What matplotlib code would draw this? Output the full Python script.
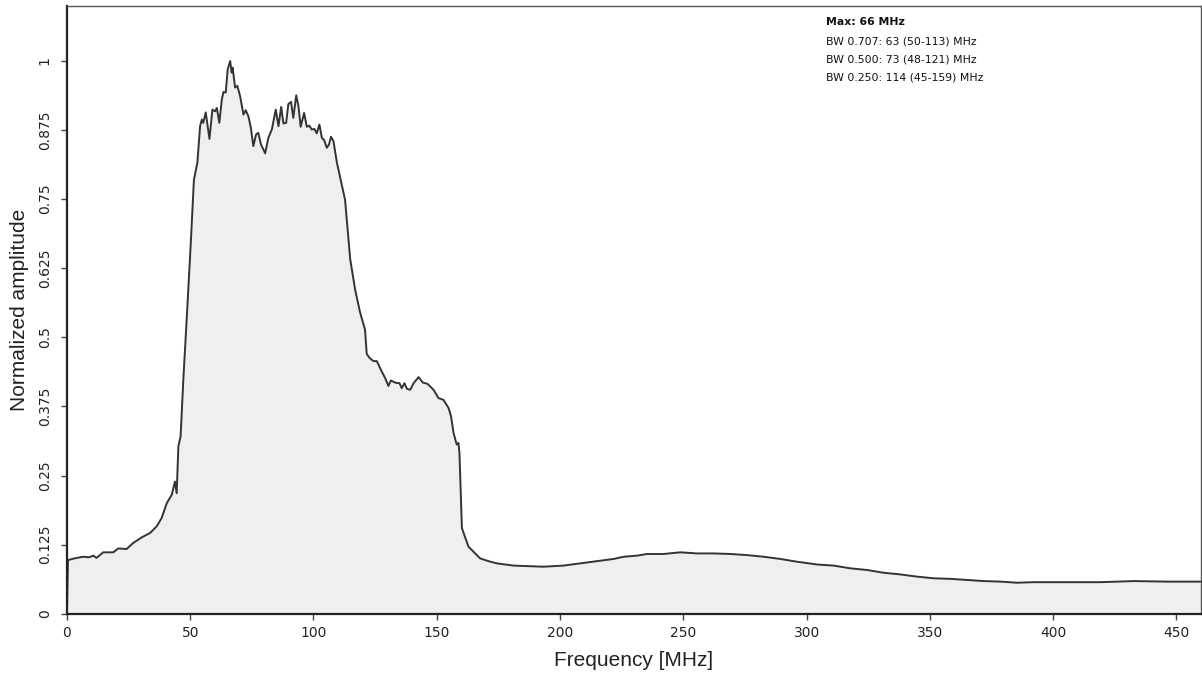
import matplotlib
matplotlib.use("Agg")
import matplotlib.pyplot as plt

freq_mhz = [0, 0.4, 3, 6.6, 9, 10.7, 12, 14.7, 18.8, 20.8, 24.2, 26.9, 30.3, 33.7,
            36.4, 38.4, 40.5, 42.5, 43.8, 44.5, 45.2, 46.1, 47.2, 49.0, 50.3, 51.5,
            52.9, 54.0, 54.7, 55.3, 56.3, 57.8, 59.0, 60.1, 60.8, 61.8, 62.8, 63.5,
            64.4, 65.2, 66.2, 66.8, 67.2, 68.2, 69.1, 70.2, 71.6, 72.5, 73.6, 74.6,
            75.6, 76.7, 77.6, 78.7, 80.4, 81.7, 83.1, 84.7, 85.8, 86.9, 87.8, 88.9,
            89.8, 90.9, 91.8, 93.0, 93.9, 94.8, 96.2, 97.3, 98.3, 99.3, 100.4, 101.3,
            102.4, 103.4, 104.3, 105.4, 106.3, 107.1, 108.1, 109.5, 112.8, 114.9,
            116.9, 118.9, 120.9, 121.6, 122.7, 124.3, 125.7, 127.7, 129.1, 130.4,
            131.4, 133.1, 134.9, 135.8, 136.9, 137.9, 139.2, 140.6, 142.6, 144.4,
            146.2, 148.7, 150.7, 152.7, 154.8, 155.8, 156.8, 158.1, 158.8, 159.2,
            160.2, 161.6, 162.9, 164.9, 167.6, 171.0, 174.4, 181.2, 187.9, 193.3,
            201.4, 208.2, 215.0, 221.7, 225.8, 231.2, 235.3, 242.0, 248.8, 255.6,
            262.3, 269.1, 275.8, 282.6, 289.4, 296.1, 304.3, 311.0, 317.8, 324.6,
            331.3, 338.1, 344.8, 351.6, 358.4, 365.1, 371.9, 378.7, 385.4, 392.2,
            405.7, 419.3, 432.8, 446.3, 460.0]

amplitude = [0.0, 0.097, 0.100, 0.103, 0.102, 0.105, 0.101, 0.111, 0.111, 0.118,
             0.117, 0.128, 0.138, 0.146, 0.158, 0.173, 0.200, 0.215, 0.239, 0.218,
             0.303, 0.321, 0.423, 0.568, 0.677, 0.785, 0.816, 0.882, 0.894, 0.888,
             0.907, 0.859, 0.912, 0.909, 0.915, 0.888, 0.930, 0.944, 0.943, 0.985,
             1.000, 0.979, 0.988, 0.952, 0.955, 0.937, 0.903, 0.911, 0.900, 0.879,
             0.846, 0.867, 0.870, 0.849, 0.833, 0.861, 0.876, 0.912, 0.882, 0.917,
             0.887, 0.888, 0.922, 0.926, 0.897, 0.938, 0.918, 0.881, 0.906, 0.881,
             0.883, 0.876, 0.877, 0.869, 0.885, 0.861, 0.857, 0.843, 0.849, 0.863,
             0.855, 0.816, 0.749, 0.641, 0.586, 0.545, 0.514, 0.470, 0.463, 0.457,
             0.457, 0.438, 0.426, 0.412, 0.422, 0.418, 0.417, 0.408, 0.417, 0.407,
             0.405, 0.417, 0.428, 0.418, 0.416, 0.405, 0.390, 0.387, 0.372, 0.357,
             0.327, 0.306, 0.309, 0.291, 0.155, 0.137, 0.121, 0.112, 0.100, 0.095,
             0.091, 0.087, 0.086, 0.085, 0.087, 0.091, 0.095, 0.099, 0.103, 0.105,
             0.108, 0.108, 0.111, 0.109, 0.109, 0.108, 0.106, 0.103, 0.099, 0.094,
             0.089, 0.087, 0.082, 0.079, 0.074, 0.071, 0.067, 0.064, 0.063, 0.061,
             0.059, 0.058, 0.056, 0.057, 0.057, 0.057, 0.059, 0.058, 0.058]

x_ticks = [0, 50, 100, 150, 200, 250, 300, 350, 400, 450]
y_ticks = [0, 0.125, 0.25, 0.375, 0.5, 0.625, 0.75, 0.875, 1]
y_tick_labels = ["0", "0.125", "0.25", "0.375", "0.5", "0.625", "0.75", "0.875", "1"]

info_title = "Max: 66 MHz"
info_lines = ["BW 0.707: 63 (50-113) MHz",
              "BW 0.500: 73 (48-121) MHz",
              "BW 0.250: 114 (45-159) MHz"]

fig = plt.figure(figsize=(12.02, 6.74), dpi=100)
ax = fig.add_axes([0.0557, 0.0895, 0.9435, 0.902])

ax.fill_between(freq_mhz, amplitude, 0, color="#efefef", linewidth=0)
ax.plot(freq_mhz, amplitude, color="#333333", linewidth=1.4)

ax.set_xlim(0, 460)
ax.set_ylim(0, 1.1)
ax.set_xticks(x_ticks)
ax.set_xticklabels([str(t) for t in x_ticks])
ax.set_yticks(y_ticks)
ax.set_yticklabels(y_tick_labels)

for sp in ax.spines.values():
    sp.set_color("#555555")
    sp.set_linewidth(1.0)
ax.spines["bottom"].set_color("#222222")
ax.spines["bottom"].set_linewidth(1.6)
ax.spines["left"].set_color("#222222")
ax.spines["left"].set_linewidth(1.6)

ax.tick_params(axis="both", length=4, width=1, color="#444444", labelsize=10,
               labelcolor="#222222")
ax.tick_params(axis="y", pad=7)
ax.tick_params(axis="x", pad=5)
for lbl in ax.get_yticklabels():
    lbl.set_rotation(90)
    lbl.set_va("center")

ax.set_xlabel("Frequency [MHz]", fontsize=15, family="Liberation Sans",
              color="#222222", labelpad=8)
ax.set_ylabel("Normalized amplitude", fontsize=15, family="Liberation Sans",
              color="#222222", labelpad=6)

fig.text(826 / 1202, 1 - 22 / 674, info_title, fontsize=7.8, fontweight="bold",
         va="center", ha="left", color="#111111")
for i, line in enumerate(info_lines):
    fig.text(826 / 1202, 1 - (41 + 18.5 * i) / 674, line, fontsize=7.8,
             va="center", ha="left", color="#111111")

fig.savefig("out.png", dpi=100)
